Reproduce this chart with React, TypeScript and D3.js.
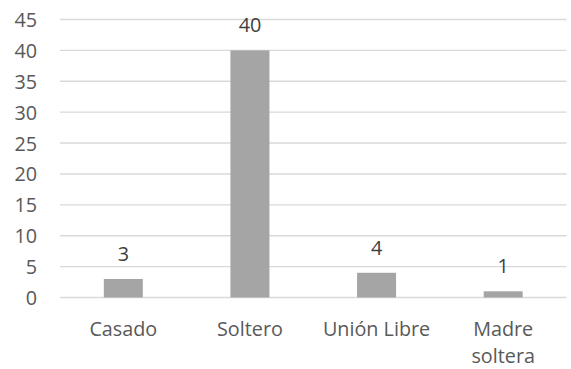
import React, { useEffect, useRef } from "react";
import * as d3 from "d3";

// categories and counts
const categories: string[] = ["Casado", "Soltero", "Unión Libre", "Madre soltera"];
const categoryLines: string[][] = [["Casado"], ["Soltero"], ["Unión Libre"], ["Madre", "soltera"]];
const values: number[] = [3, 40, 4, 1];
const yTicks: number[] = [0, 5, 10, 15, 20, 25, 30, 35, 40, 45];

const App: React.FC = () => {
  const svgRef = useRef<SVGSVGElement | null>(null);

  useEffect(() => {
    if (!svgRef.current) return;
    const svg = d3.select(svgRef.current);
    svg.selectAll("*").remove(); // Clear previous content

    const width = 571;
    const height = 369;
    const font = "'Open Sans', sans-serif";
    const fontSize = 19.8;
    const textColor = "#595959";

    svg.attr("width", width).attr("height", height);

    const xScale = d3.scaleBand<string>()
      .domain(categories)
      .range([60, 566.5])
      .padding(0);

    const yScale = d3.scaleLinear()
      .domain([0, 45])
      .range([297.5, 19.5]);

    const barWidth = 39;

    // gridlines
    svg.append("g")
      .selectAll("line")
      .data(yTicks)
      .enter()
      .append("line")
      .attr("x1", 60)
      .attr("x2", 566.5)
      .attr("y1", d => yScale(d))
      .attr("y2", d => yScale(d))
      .attr("stroke", "#D9D9D9")
      .attr("stroke-width", 1.4);

    // y tick labels
    svg.append("g")
      .selectAll("text")
      .data(yTicks)
      .enter()
      .append("text")
      .attr("x", 37)
      .attr("y", d => yScale(d) + 7.5)
      .attr("text-anchor", "end")
      .attr("font-family", font)
      .attr("font-size", fontSize)
      .attr("fill", textColor)
      .text(d => d);

    const data = categories.map((c, i) => ({ cat: c, value: values[i], lines: categoryLines[i] }));

    // bars
    svg.append("g")
      .selectAll("rect")
      .data(data)
      .enter()
      .append("rect")
      .attr("x", d => xScale(d.cat)! + xScale.bandwidth() / 2 - barWidth / 2)
      .attr("y", d => yScale(d.value))
      .attr("width", barWidth)
      .attr("height", d => yScale(0) - yScale(d.value))
      .attr("fill", "#A5A5A5");

    // value labels
    svg.append("g")
      .selectAll("text")
      .data(data)
      .enter()
      .append("text")
      .attr("x", d => xScale(d.cat)! + xScale.bandwidth() / 2)
      .attr("y", d => yScale(d.value) - 18)
      .attr("text-anchor", "middle")
      .attr("font-family", font)
      .attr("font-size", fontSize)
      .attr("fill", "#404040")
      .text(d => d.value);

    // category labels
    const catLabels = svg.append("g")
      .selectAll("text")
      .data(data)
      .enter()
      .append("text")
      .attr("x", d => xScale(d.cat)! + xScale.bandwidth() / 2)
      .attr("y", 336)
      .attr("text-anchor", "middle")
      .attr("font-family", font)
      .attr("font-size", fontSize)
      .attr("fill", textColor);

    catLabels.selectAll("tspan")
      .data(d => d.lines.map(l => ({ l, x: xScale(d.cat)! + xScale.bandwidth() / 2 })))
      .enter()
      .append("tspan")
      .attr("x", d => d.x)
      .attr("dy", (d, i) => (i === 0 ? 0 : 27))
      .text(d => d.l);
  }, []);

  return (
    <svg
      ref={svgRef}
      width={571}
      height={369}
      style={{ position: "absolute", left: 0, top: 0, background: "#fff" }}
    ></svg>
  );
};

export default App;
